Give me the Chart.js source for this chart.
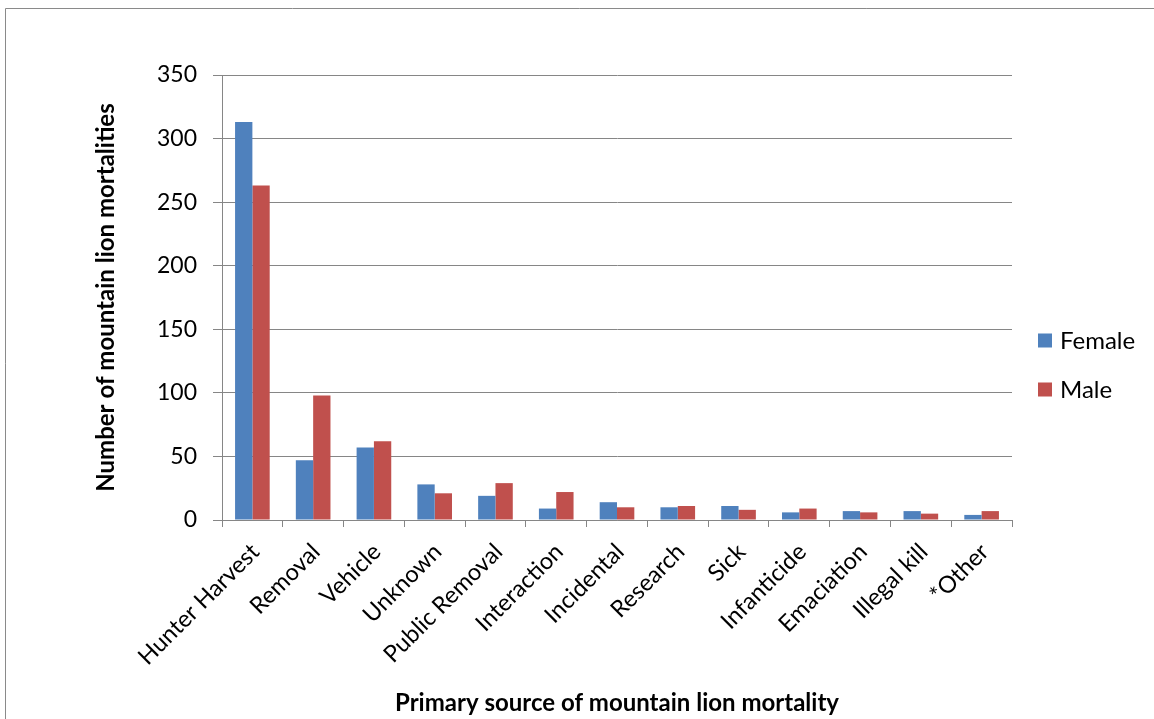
<!DOCTYPE html>
<html>
<head>
<meta charset="utf-8">
<script src="https://cdn.jsdelivr.net/npm/chart.js@4/dist/chart.umd.min.js"></script>
<style>
  html, body { margin: 0; padding: 0; background: #fff; }
  #wrap { position: relative; width: 1154px; height: 719px; }
</style>
</head>
<body>
<div id="wrap"><canvas id="c" width="1154" height="719"></canvas></div>
<script>
// Mortality causes, ordered as on the category axis
const categories = ['Hunter Harvest', 'Removal', 'Vehicle', 'Unknown', 'Public Removal',
  'Interaction', 'Incidental', 'Research', 'Sick', 'Infanticide', 'Emaciation',
  'Illegal kill', '*Other'];
const femaleCounts = [313, 47, 57, 28, 19, 9, 14, 10, 11, 6, 7, 7, 4];
const maleCounts = [263, 98, 62, 21, 29, 22, 10, 11, 8, 9, 6, 5, 7];
const yTicks = [0, 50, 100, 150, 200, 250, 300, 350];

const FONT = 'Lato, "Open Sans", sans-serif';
const AXIS_GREY = '#868686';

// Outer frame of the chart object
const framePlugin = {
  id: 'frame',
  beforeDraw(chart) {
    const ctx = chart.ctx;
    ctx.save();
    ctx.strokeStyle = '#8a8a8a';
    ctx.lineWidth = 1;
    ctx.beginPath();
    ctx.moveTo(5.5, chart.height);
    ctx.lineTo(5.5, 8.5);
    ctx.lineTo(chart.width, 8.5);
    ctx.stroke();
    ctx.restore();
  }
};

// Legend on the right, built from the dataset labels and colours
const sideLegend = {
  id: 'sideLegend',
  afterDraw(chart) {
    const ctx = chart.ctx;
    const x0 = chart.chartArea.right + 26;
    const rowGap = 49;
    const y0 = 340.5;
    ctx.save();
    ctx.font = '24px ' + FONT;
    ctx.textBaseline = 'middle';
    ctx.textAlign = 'left';
    chart.data.datasets.forEach((ds, i) => {
      const cy = y0 + i * rowGap;
      ctx.fillStyle = ds.backgroundColor;
      ctx.fillRect(x0, cy - 7, 14, 14);
      ctx.fillStyle = '#000';
      ctx.fillText(ds.label, x0 + 22, cy + 1);
    });
    ctx.restore();
  }
};

new Chart(document.getElementById('c'), {
  type: 'bar',
  data: {
    labels: categories,
    datasets: [
      { label: 'Female', data: femaleCounts, backgroundColor: '#4F81BD' },
      { label: 'Male', data: maleCounts, backgroundColor: '#C0504D' }
    ]
  },
  options: {
    responsive: false,
    animation: false,
    devicePixelRatio: 1,
    layout: { padding: { top: 75, right: 142, bottom: 0, left: 80 } },
    datasets: { bar: { categoryPercentage: 0.57, barPercentage: 1.0 } },
    plugins: {
      legend: { display: false },
      tooltip: { enabled: false }
    },
    scales: {
      x: {
        grid: { drawOnChartArea: false, drawTicks: true, tickLength: 7, color: AXIS_GREY, offset: true },
        border: { color: AXIS_GREY, width: 1 },
        ticks: {
          autoSkip: false, minRotation: 45, maxRotation: 45,
          padding: 11, labelOffset: 3,
          color: '#000', font: { family: FONT, size: 23.5 }
        },
        title: {
          display: true, text: 'Primary source of mountain lion mortality',
          color: '#000', font: { family: FONT, size: 24, weight: 'bold' },
          padding: { top: 0, bottom: 1 }
        },
        afterFit(scale) { scale.height = 199; }
      },
      y: {
        min: 0, max: 350,
        afterBuildTicks(scale) { scale.ticks = yTicks.map(v => ({ value: v })); },
        grid: { color: AXIS_GREY, tickLength: 9, tickColor: AXIS_GREY },
        border: { color: AXIS_GREY, width: 1 },
        ticks: {
          padding: 16,
          color: '#000', font: { family: FONT, size: 23 }
        },
        title: {
          display: true, text: 'Number of mountain lion mortalities',
          color: '#000', font: { family: FONT, size: 24, weight: 'bold' },
          padding: { top: 12, bottom: 0 }
        },
        afterFit(scale) { scale.width = 222 - 80; }
      }
    }
  },
  plugins: [framePlugin, sideLegend]
});
</script>
</body>
</html>
